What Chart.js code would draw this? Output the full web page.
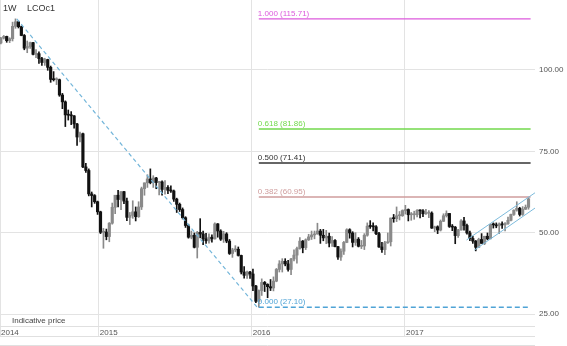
<!DOCTYPE html>
<html><head><meta charset="utf-8">
<script src="https://cdn.jsdelivr.net/npm/chart.js@4.4.0/dist/chart.umd.min.js"></script>
<style>html,body{margin:0;padding:0;background:#fff;}#wrap{width:567px;height:346px;position:relative;}</style>
</head><body><div id="wrap"><canvas id="c"></canvas></div>
<script>
// ---- data (weekly Brent LCOc1, first week starting 2014-05-12) ----
const firstWeek = '2014-05-12';
const opens = [108.3,109.8,110.3,109.0,109.6,113.4,114.8,113.3,110.6,106.7,107.2,108.4,104.8,105.0,103.5,102.3,103.2,100.8,97.1,97.0,
97.0,92.3,90.2,86.2,86.1,85.9,83.4,79.4,80.4,70.2,69.1,61.9,61.4,59.5,56.4,50.1,50.2,48.8,52.9,57.8,
61.5,60.2,62.6,59.7,54.7,55.3,56.4,54.9,57.9,63.5,65.3,66.5,65.4,66.8,65.4,65.6,63.3,63.9,63.0,62.8,
60.3,58.7,57.1,54.6,52.2,48.6,49.2,45.5,50.1,49.6,48.1,47.5,48.6,48.1,52.7,50.5,48.0,49.6,47.4,43.6,
44.7,44.9,43.0,37.9,36.9,37.9,37.3,33.6,28.9,32.2,34.7,34.1,33.4,33.0,35.1,38.7,40.4,41.2,40.4,38.7,
41.9,43.1,45.1,47.4,45.4,47.8,48.7,49.3,49.6,50.5,49.2,48.4,48.9,46.8,47.6,45.7,42.5,44.3,47.0,50.9,
49.9,47.0,48.0,45.8,45.9,49.2,52.0,51.9,51.8,49.7,45.6,44.8,46.9,47.2,54.5,54.3,55.2,55.2,56.8,57.1,
55.5,55.5,55.5,56.8,56.7,55.8,56.0,56.0,51.4,51.8,50.8,53.5,55.2,55.9,51.9,51.7,49.1,50.8,53.6,52.2,
49.9,48.2,47.4,45.5,47.9,46.7,48.9,48.1,52.5,52.4,52.1,52.7,52.4,52.8,53.8,55.6,56.9,57.5,55.6,57.2,
57.8];
const highs = [110.0,110.6,110.4,109.9,114.7,115.7,115.0,113.5,110.9,108.9,108.6,108.5,106.3,105.6,103.9,103.6,103.3,101.2,99.5,97.6,
97.2,92.8,90.5,87.7,87.2,86.0,83.6,80.9,80.6,71.3,69.6,62.5,61.7,59.7,56.6,51.3,51.1,53.1,59.1,61.5,
63.0,62.6,62.7,60.6,56.2,59.8,57.9,59.5,64.0,65.3,67.8,69.6,67.5,67.0,65.8,65.9,66.0,64.5,64.4,63.1,
60.6,59.1,57.6,54.9,52.6,50.5,49.9,50.4,54.3,50.5,49.8,49.6,49.3,53.0,52.8,50.9,50.4,50.0,47.9,45.2,
46.0,45.6,43.1,39.6,38.2,38.1,38.8,33.8,32.4,35.8,35.0,34.3,35.6,36.4,39.0,41.4,42.0,42.0,41.5,42.1,
44.7,45.6,48.5,47.6,48.1,49.5,50.5,50.5,52.9,51.0,51.0,50.7,49.9,48.8,47.9,45.8,45.0,47.3,51.2,51.2,
50.3,50.0,48.5,47.6,49.7,53.0,53.7,53.0,52.2,50.1,47.0,47.3,49.9,54.5,55.6,57.9,56.5,57.0,58.4,57.3,
56.2,56.6,57.1,57.0,57.1,57.2,56.8,56.4,52.0,52.1,53.9,55.8,56.7,55.9,52.5,51.9,51.0,54.0,54.7,52.6,
50.5,48.9,47.6,48.3,49.7,48.9,49.9,52.6,53.0,53.0,53.0,53.3,53.1,54.8,55.7,57.0,59.5,57.8,58.0,58.5,
60.9];
const lows = [108.0,109.5,108.5,108.4,108.9,112.8,112.9,110.5,106.2,105.3,106.6,104.6,103.8,102.0,101.4,101.4,99.9,96.2,96.6,95.5,
91.9,88.1,82.6,84.6,83.2,82.1,76.8,77.9,70.0,68.5,61.3,57.9,59.0,55.6,49.7,45.2,47.8,47.2,52.6,55.8,
57.9,57.1,58.9,53.7,52.5,54.4,53.6,54.7,57.1,61.5,63.9,65.0,63.9,63.5,61.6,61.5,61.8,62.0,62.4,59.6,
56.2,56.5,54.2,51.6,48.3,48.1,45.3,42.2,48.4,46.3,46.7,46.8,47.1,48.0,48.6,47.6,47.0,46.9,43.3,42.4,
44.1,42.8,37.3,36.0,35.9,35.9,32.2,28.5,27.1,30.7,31.9,30.0,32.2,32.1,34.9,37.9,37.9,39.8,38.2,37.1,
41.3,40.6,44.9,43.8,44.8,47.6,47.9,48.1,49.5,46.7,47.5,46.6,45.6,45.8,45.6,41.8,41.5,43.3,46.9,48.3,
45.6,46.1,45.6,45.1,44.8,48.9,51.3,50.5,49.4,45.5,43.9,43.2,46.7,45.9,53.2,53.4,53.9,55.0,55.7,53.6,
53.8,54.1,54.8,54.5,54.9,55.6,54.6,51.3,50.3,49.7,50.5,53.4,54.8,51.6,50.6,46.6,48.5,50.8,50.8,49.5,
47.5,46.7,44.4,45.4,46.7,46.3,47.8,48.1,51.4,51.5,49.7,51.3,50.5,52.5,53.6,55.3,56.6,55.1,55.3,57.1,
57.2];
const closes = [109.8,110.3,109.0,109.6,113.4,114.8,113.3,110.6,106.7,107.2,108.4,104.8,105.0,103.5,102.3,103.2,100.8,97.1,97.0,97.0,
92.3,90.2,86.2,86.1,85.9,83.4,79.4,80.4,70.2,69.1,61.9,61.4,59.5,56.4,50.1,50.2,48.8,52.9,57.8,61.5,
60.2,62.6,59.7,54.7,55.3,56.4,54.9,57.9,63.5,65.3,66.5,65.4,66.8,65.4,65.6,63.3,63.9,63.0,62.8,60.3,
58.7,57.1,54.6,52.2,48.6,49.2,45.5,50.1,49.6,48.1,47.5,48.6,48.1,52.7,50.5,48.0,49.6,47.4,43.6,44.7,
44.9,43.0,37.9,36.9,37.9,37.3,33.6,28.9,32.2,34.7,34.1,33.4,33.0,35.1,38.7,40.4,41.2,40.4,38.7,41.9,
43.1,45.1,47.4,45.4,47.8,48.7,49.3,49.6,50.5,49.2,48.4,48.9,46.8,47.6,45.7,42.5,44.3,47.0,50.9,49.9,
47.0,48.0,45.8,45.9,49.2,52.0,51.9,51.8,49.7,45.6,44.8,46.9,47.2,54.5,54.3,55.2,55.2,56.8,57.1,55.5,
55.5,55.5,56.8,56.7,55.8,56.0,56.0,51.4,51.8,50.8,53.5,55.2,55.9,51.9,51.7,49.1,50.8,53.6,52.2,49.9,
48.2,47.4,45.5,47.9,46.7,48.9,48.1,52.5,52.4,52.1,52.7,52.4,52.8,53.8,55.6,56.9,57.5,55.6,57.2,57.8,
60.4];

const yearLabels = ['2014','2015','2016','2017'];
const yearTickDates = ['2014-05-10','2015-01-01','2016-01-01','2017-01-01'];
const yTicks = [25, 50, 75, 100];

const fibRatios = [1.000, 0.618, 0.500, 0.382, 0.000];
const fibValues = [115.71, 81.86, 71.41, 60.95, 27.10];
const fibColors = ['#dc5adc', '#72d94c', '#333333', '#cf9d9d', '#4fa3d6'];
const fibRange = ['2016-01-18', '2017-10-28'];

const trendDates = ['2014-06-19', '2016-01-14'];
const trendValues = [115.71, 27.10];
const channelUpperDates = ['2017-05-28', '2017-11-08'];
const channelUpperValues = [47.75, 62.3];
const channelLowerDates = ['2017-06-16', '2017-11-08'];
const channelLowerValues = [44.67, 57.6];

// ---- build ----
const DAY = 86400000;
const T = s => Date.parse(s + 'T00:00:00Z');
const t0 = T(firstWeek);
const weekTimes = opens.map((_, i) => t0 + i * 7 * DAY);
const xMin = T('2014-05-10');
const xMax = T('2017-11-07') + 12 * 3600000;
const candleColors = opens.map((o, i) => closes[i] >= o ? '#8a8a8a' : '#111111');

const datasets = [
  { type: 'bar', data: weekTimes.map((t, i) => ({ x: t, y: [opens[i], closes[i]] })),
    backgroundColor: candleColors, barThickness: 2.5, grouped: false, minBarLength: 1, order: 3 },
  { type: 'bar', data: weekTimes.map((t, i) => ({ x: t, y: [lows[i], highs[i]] })),
    backgroundColor: candleColors, barThickness: 1, grouped: false, order: 4 },
  { type: 'line', data: trendDates.map((d, i) => ({ x: T(d), y: trendValues[i] })),
    borderColor: '#74b6da', borderWidth: 1.2, borderDash: [4, 3], pointRadius: 0, order: 1 },
  { type: 'line', data: channelUpperDates.map((d, i) => ({ x: T(d), y: channelUpperValues[i] })),
    borderColor: '#7dbbdc', borderWidth: 1, pointRadius: 0, order: 1 },
  { type: 'line', data: channelLowerDates.map((d, i) => ({ x: T(d), y: channelLowerValues[i] })),
    borderColor: '#7dbbdc', borderWidth: 1, pointRadius: 0, order: 1 }
];
fibValues.forEach((v, i) => {
  datasets.push({ type: 'line', data: fibRange.map(d => ({ x: T(d), y: v })),
    borderColor: fibColors[i], borderWidth: i === 4 ? 1.5 : 1.3, borderDash: i === 4 ? [5, 3] : [],
    pointRadius: 0, order: 2 });
});

const FONT = '"Liberation Sans", Arial, sans-serif';
const annot = {
  id: 'annot',
  afterDraw(chart) {
    const { ctx, chartArea: a, scales: { x, y } } = chart;
    ctx.save();
    ctx.strokeStyle = '#e0e0e0'; ctx.lineWidth = 1;
    [326.5, 336.5, 345.5].forEach(yy => { ctx.beginPath(); ctx.moveTo(0, yy); ctx.lineTo(a.right, yy); ctx.stroke(); });
    ctx.textBaseline = 'middle';
    ctx.font = '8px ' + FONT;
    ctx.fillStyle = '#444';
    ctx.fillText('Indicative price', 12, 321);
    ctx.font = '9px ' + FONT;
    ctx.fillStyle = '#333';
    ctx.fillText('1W', 3, 9);
    ctx.fillText('LCOc1', 27, 9);
    ctx.font = '8px ' + FONT;
    ctx.textBaseline = 'alphabetic';
    fibRatios.forEach((r, i) => {
      ctx.fillStyle = fibColors[i];
      ctx.fillText(r.toFixed(3) + ' (' + fibValues[i].toFixed(2) + ')', x.getPixelForValue(T(fibRange[0])) - 1, y.getPixelForValue(fibValues[i]) - 3);
    });
    ctx.restore();
  }
};

new Chart(document.getElementById('c'), {
  type: 'bar',
  data: { datasets },
  options: {
    responsive: true, maintainAspectRatio: false, animation: false,
    layout: { padding: 0 },
    plugins: { legend: { display: false }, tooltip: { enabled: false } },
    scales: {
      x: {
        type: 'linear', position: 'bottom', min: xMin, max: xMax, offset: false,
        afterBuildTicks: s => { s.ticks = yearTickDates.map(d => ({ value: T(d) })); },
        afterFit: s => { s.height = 32; s.paddingLeft = 0; s.paddingRight = 0; },
        grid: { color: '#e3e3e3', offset: false, drawTicks: true, tickLength: 22, tickColor: '#e3e3e3' },
        border: { display: false },
        ticks: { callback: (v, i) => yearLabels[i], align: 'start', autoSkip: false, maxRotation: 0,
                 padding: -8, labelOffset: 1, color: '#555', font: { size: 8, family: FONT } }
      },
      y: {
        type: 'linear', position: 'right', min: 25, max: 121.5,
        afterBuildTicks: s => { s.ticks = yTicks.map(v => ({ value: v })); },
        afterFit: s => { s.width = 32; s.paddingTop = 0; s.paddingBottom = 0; },
        grid: { color: '#e3e3e3', drawTicks: false },
        border: { display: false },
        ticks: { callback: v => v.toFixed(2), padding: 4, color: '#555', font: { size: 8, family: FONT } }
      }
    }
  },
  plugins: [annot]
});
</script></body></html>
